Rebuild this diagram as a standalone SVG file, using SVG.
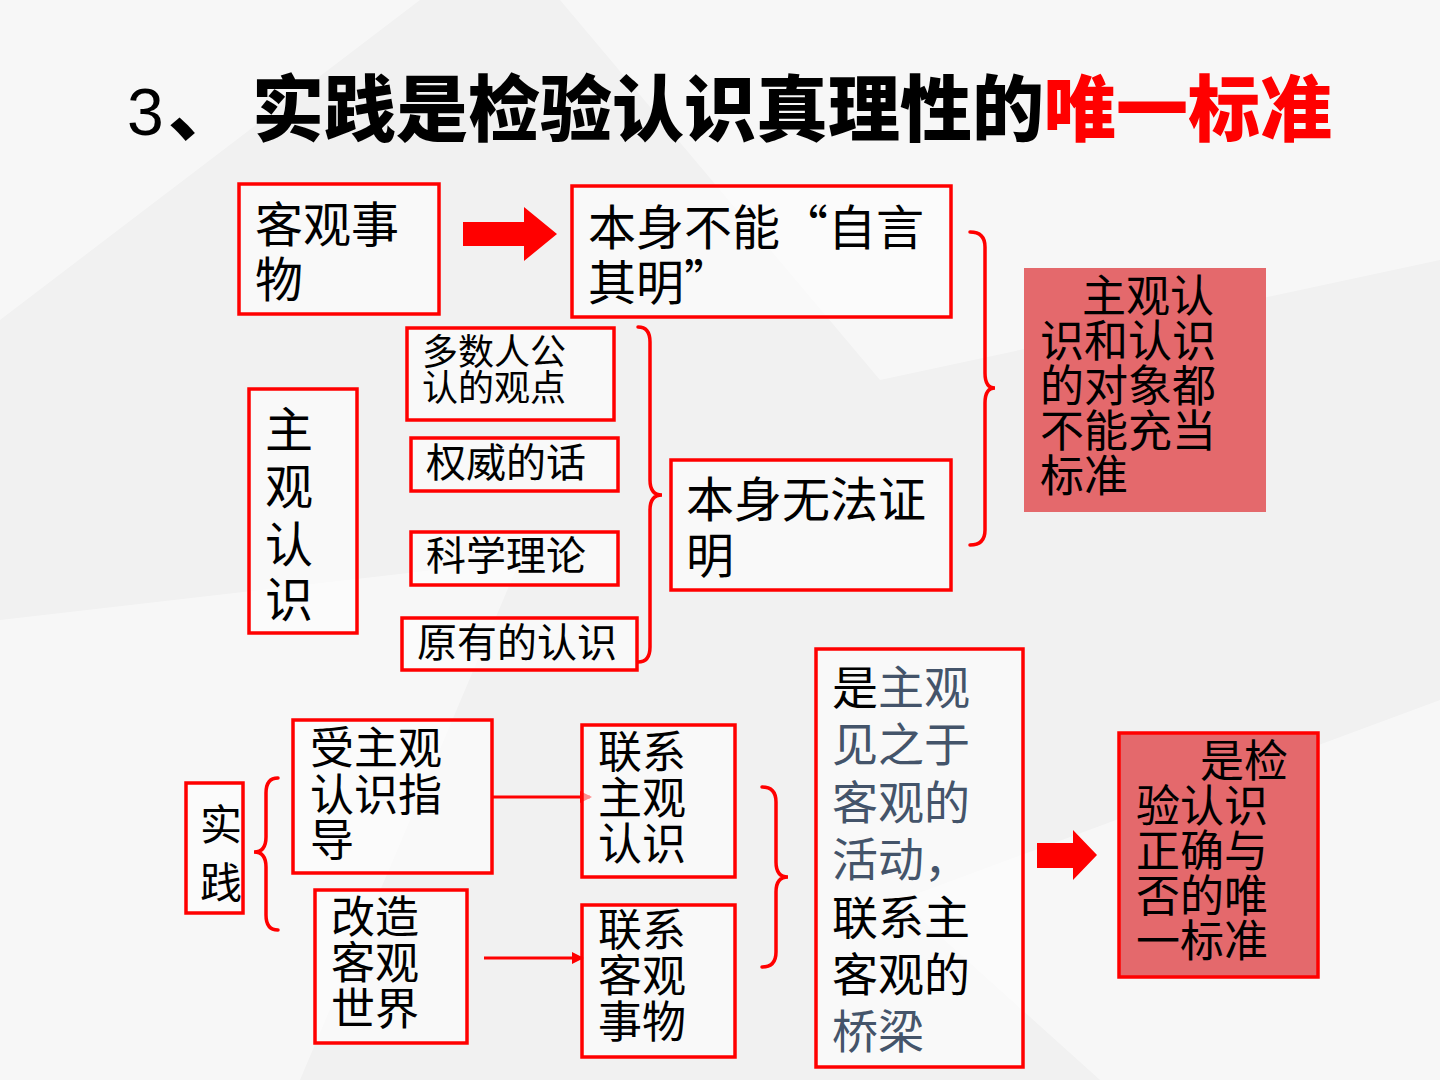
<svg xmlns="http://www.w3.org/2000/svg" width="1440" height="1080" viewBox="0 0 1440 1080">
<defs>
<style>
.box{fill:#ffffff;fill-opacity:0.55;stroke:#f00;stroke-width:3.5}
.pink{fill:#e4696c;stroke:none}
.pinkb{fill:#e4696c;stroke:#f00;stroke-width:3.5}
.t{font-family:"Noto Sans CJK SC","Liberation Serif",serif;fill:#000}
.t48{font-size:48px}
.t46{font-size:46px}
.t44{font-size:44px}
.t40{font-size:40px}
.slate{fill:#44546a}
.brace{fill:none;stroke:#f00;stroke-width:3.5;stroke-linecap:round}
.line{fill:none;stroke:#f00;stroke-width:3}
.block{fill:#f00}
</style>
<marker id="ah" markerWidth="12" markerHeight="12" refX="10" refY="6" orient="auto" markerUnits="userSpaceOnUse">
<path d="M0,0 L12,6 L0,12 Z" fill="#f00"/>
</marker>
</defs>
<rect width="1440" height="1080" fill="#f1f1f1"/>
<g id="bg" fill="#ffffff" fill-opacity="0.45">
<polygon points="0,0 420,0 0,320"/>
<polygon points="560,0 1440,0 1440,260 880,380"/>
<polygon points="0,620 520,560 300,1080 0,1080"/>
<polygon points="900,900 1440,700 1440,1080 1100,1080"/>
</g>
<g id="title">
<text x="127" y="135" font-family="Liberation Sans, sans-serif" font-size="66" fill="#000">3</text>
<text x="168" y="135" font-family="Noto Sans CJK SC, sans-serif" font-size="72" font-weight="900" fill="#000">、</text>
<text x="252" y="135" font-family="Noto Sans CJK SC, sans-serif" font-size="72" font-weight="900" fill="#000">实践是检验认识真理性的<tspan fill="#f00">唯一标准</tspan></text>
</g>
<g id="connectors">
<path class="block" d="M463,222 L524,222 L524,207 L557,234 L524,261 L524,246 L463,246 Z"/>
<path class="block" d="M1037,843 L1073,843 L1073,830 L1097,855 L1073,880 L1073,868 L1037,868 Z"/>
<path class="brace" d="M970,232 Q985,232 985,247 L985,373 Q985,388 995,388 Q985,388 985,403 L985,530 Q985,545 970,545"/>
<path class="brace" d="M638,327 Q650,327 650,342 L650,480 Q650,495 662,495 Q650,495 650,510 L650,647 Q650,662 638,662"/>
<path class="brace" d="M762,787 Q776,787 776,802 L776,862 Q776,877 788,877 Q776,877 776,892 L776,952 Q776,967 762,967"/>
<path class="brace" d="M278,778 Q266,778 266,793 L266,837 Q266,852 254,852 Q266,852 266,867 L266,915 Q266,930 278,930"/>
<line class="line" x1="492" y1="797" x2="590" y2="797" marker-end="url(#ah)"/>
<line class="line" x1="484" y1="958" x2="582" y2="958" marker-end="url(#ah)"/>
</g>
<g id="n-kegsw">
<rect class="box" x="239" y="184" width="200" height="130"/>
<text class="t t48" x="255" y="242">客观事<tspan x="255" y="297">物</tspan></text>
</g>
<g id="n-zyqm">
<rect class="box" x="572" y="186" width="379" height="131"/>
<text class="t t48" x="588" y="245">本身不能“自言<tspan x="588" y="300">其明”</tspan></text>
</g>
<g id="n-conclusion1">
<rect class="pink" x="1024" y="268" width="242" height="244"/>
<text class="t t44" x="1082" y="312">主观认<tspan x="1040" y="357">识和认识</tspan><tspan x="1040" y="402">的对象都</tspan><tspan x="1040" y="447">不能充当</tspan><tspan x="1040" y="492">标准</tspan></text>
</g>
<g id="n-zgrs">
<rect class="box" x="249" y="389" width="108" height="244"/>
<text class="t t48" x="265" y="447">主<tspan x="265" y="504">观</tspan><tspan x="265" y="562">认</tspan><tspan x="265" y="617">识</tspan></text>
</g>
<g id="n-dsrgr">
<rect class="box" x="407" y="328" width="207" height="92"/>
<text class="t" font-size="36" x="422" y="365">多数人公<tspan x="422" y="401">认的观点</tspan></text>
</g>
<g id="n-qwdh">
<rect class="box" x="411" y="438" width="207" height="53"/>
<text class="t t40" x="426" y="477">权威的话</text>
</g>
<g id="n-kxll">
<rect class="box" x="411" y="532" width="207" height="53"/>
<text class="t t40" x="426" y="570">科学理论</text>
</g>
<g id="n-yydrs">
<rect class="box" x="402" y="618" width="235" height="52"/>
<text class="t t40" x="417" y="657">原有的认识</text>
</g>
<g id="n-bswfzm">
<rect class="box" x="671" y="460" width="280" height="130"/>
<text class="t t48" x="686" y="517">本身无法证<tspan x="686" y="573">明</tspan></text>
</g>
<g id="n-sj">
<rect class="box" x="186" y="783" width="57" height="130"/>
<text class="t" font-size="42" x="200" y="840">实<tspan x="200" y="898">践</tspan></text>
</g>
<g id="n-szgrszd">
<rect class="box" x="293" y="720" width="199" height="153"/>
<text class="t t44" x="310" y="764">受主观<tspan x="310" y="811">认识指</tspan><tspan x="310" y="856">导</tspan></text>
</g>
<g id="n-gzkgsj">
<rect class="box" x="315" y="890" width="152" height="153"/>
<text class="t t44" x="331" y="933">改造<tspan x="331" y="979">客观</tspan><tspan x="331" y="1025">世界</tspan></text>
</g>
<g id="n-lxzgrs">
<rect class="box" x="582" y="725" width="153" height="152"/>
<text class="t t44" x="598" y="768">联系<tspan x="598" y="814">主观</tspan><tspan x="598" y="860">认识</tspan></text>
</g>
<g id="n-lxkgsw">
<rect class="box" x="582" y="905" width="153" height="152"/>
<text class="t t44" x="598" y="946">联系<tspan x="598" y="992">客观</tspan><tspan x="598" y="1038">事物</tspan></text>
</g>
<g id="n-bridge">
<rect class="box" x="816" y="649" width="207" height="418"/>
<text class="t t46" x="832" y="704">是<tspan class="slate">主观</tspan><tspan class="slate" x="832" y="761">见之于</tspan><tspan class="slate" x="832" y="819">客观的</tspan><tspan class="slate" x="832" y="876">活动，</tspan><tspan x="832" y="934">联系主</tspan><tspan x="832" y="991">客观的</tspan><tspan class="slate" x="832" y="1048">桥梁</tspan></text>
</g>
<g id="n-conclusion2">
<rect class="pinkb" x="1119" y="733" width="199" height="244"/>
<text class="t t44" x="1200" y="777">是检<tspan x="1136" y="822">验认识</tspan><tspan x="1136" y="867">正确与</tspan><tspan x="1136" y="912">否的唯</tspan><tspan x="1136" y="957">一标准</tspan></text>
</g>
</svg>
